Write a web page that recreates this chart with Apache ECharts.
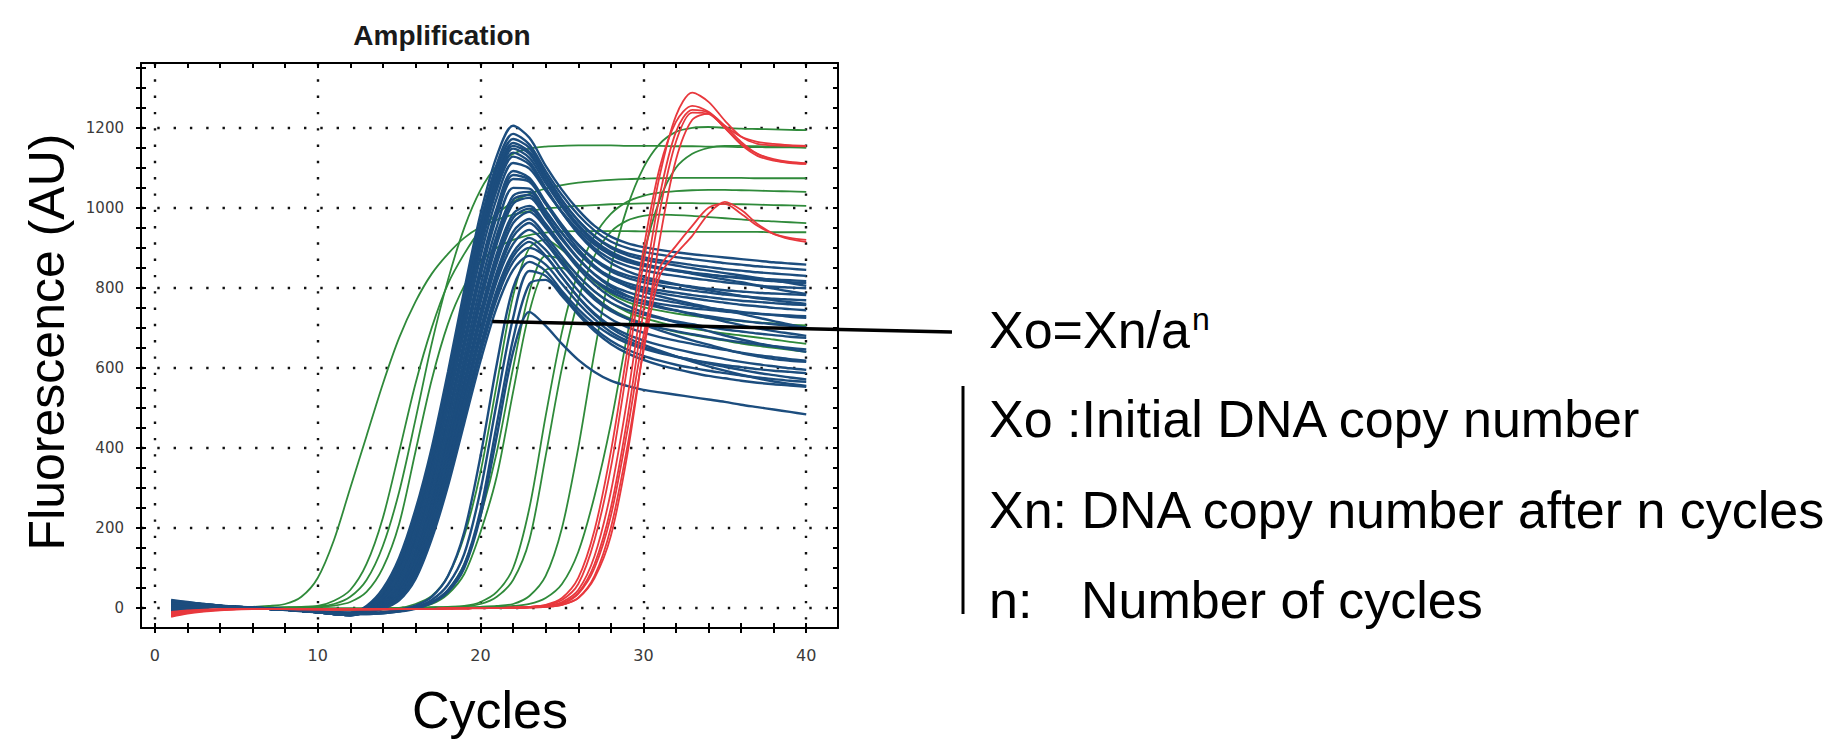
<!DOCTYPE html>
<html><head><meta charset="utf-8">
<script src="https://cdn.jsdelivr.net/npm/echarts@6/dist/echarts.min.js"></script>
<style>html,body{margin:0;padding:0;background:#fff}#c{width:1844px;height:744px}</style>
</head><body><div id="c"></div>
<script>
const cycles = [1,2,3,4,5,6,7,8,9,10,11,12,13,14,15,16,17,18,19,20,21,22,23,24,25,26,27,28,29,30,31,32,33,34,35,36,37,38,39,40];
const xTickValues = [0,2,4,6,8,10,12,14,16,18,20,22,24,26,28,30,32,34,36,38,40];
const xLabelValues = [0,10,20,30,40];
const yTickValues = [0,50,100,150,200,250,300,350,400,450,500,550,600,650,700,750,800,850,900,950,1000,1050,1100,1150,1200,1250,1300,1350];
const yLabelValues = [0,200,400,600,800,1000,1200];

// blue curves (main band + late ones)
const blue01 = [12,10,8,5,2,0,-2,-4,-7,-10,-13,-12,5,48,125,245,400,590,795,985,1130,1205,1175,1105,1045,995,955,928,912,902,895,889,884,880,876,872,868,864,861,858];
const blue02 = [-8,-4,2,4,3,1,-1,-3,-6,-9,-12,-14,3,40,115,232,382,570,775,965,1110,1185,1158,1092,1032,982,943,916,900,890,883,877,872,867,862,858,854,851,848,845];
const blue03 = [18,14,10,6,3,1,-1,-3,-5,-8,-10,-11,2,35,105,220,368,552,752,940,1085,1162,1140,1078,1018,968,930,903,887,877,869,863,857,852,847,843,839,836,833,830];
const blue04 = [0,5,7,5,2,0,-2,-5,-8,-11,-14,-15,1,30,97,208,352,535,732,920,1068,1148,1125,1062,1002,952,913,886,869,858,850,844,838,833,828,824,820,817,814,812];
const blue05 = [10,9,7,4,2,0,-2,-4,-6,-9,-12,-13,0,26,88,195,337,517,712,898,1045,1128,1108,1047,988,938,899,872,855,844,836,830,824,819,814,810,806,803,801,799];
const blue06 = [-12,-6,0,3,3,1,-1,-3,-6,-10,-13,-15,-1,22,80,183,322,500,693,878,1025,1112,1098,1043,990,944,908,882,865,855,848,842,837,833,829,826,823,821,819,817];
const blue07 = [15,12,9,6,3,1,-1,-3,-6,-9,-12,-14,-2,19,72,170,306,480,670,852,1000,1092,1075,1015,958,908,869,842,825,814,806,799,793,788,783,779,776,773,771,769];
const blue08 = [4,8,8,5,2,0,-2,-4,-7,-11,-15,-17,-3,16,65,158,290,462,650,830,978,1072,1065,1010,955,908,872,847,831,821,814,808,803,798,794,791,788,786,784,782];
const blue09 = [20,15,10,6,3,1,-1,-3,-5,-8,-11,-13,-4,14,58,146,275,443,628,806,953,1050,1048,993,937,888,850,823,806,795,787,780,774,768,763,758,754,750,747,744];
const blue10 = [-5,0,4,4,2,0,-2,-4,-7,-10,-14,-16,-5,12,52,136,261,425,608,785,932,1030,1040,990,937,890,853,828,812,801,794,788,782,777,772,768,765,762,759,757];
const blue11 = [8,8,7,5,2,0,-2,-4,-7,-10,-13,-15,-6,10,46,126,248,408,588,763,910,1010,1025,975,920,872,834,807,790,778,770,763,756,750,745,740,736,732,728,725];
const blue12 = [14,11,8,5,2,0,-2,-4,-7,-10,-13,-16,-7,8,41,117,236,392,568,740,886,985,1005,960,906,857,818,790,772,760,751,743,736,729,723,718,713,709,705,701];
const blue13 = [-10,-5,1,3,2,0,-2,-4,-7,-11,-15,-17,-8,6,37,108,224,376,548,718,862,962,990,950,900,856,820,795,779,768,760,754,749,745,741,738,735,733,731,729];
const blue14 = [6,7,6,4,2,0,-2,-4,-7,-10,-14,-17,-9,4,33,100,213,361,530,697,840,940,972,930,878,830,791,763,745,733,724,716,709,702,696,691,686,682,678,675];
const blue15 = [16,12,9,5,2,0,-2,-4,-7,-10,-14,-17,-10,2,29,92,202,346,512,676,817,910,945,912,860,811,771,742,723,710,700,692,684,677,670,664,659,654,650,646];
const blue16 = [2,6,6,4,2,0,-2,-4,-7,-11,-15,-18,-10,0,25,85,192,332,495,656,795,888,925,895,843,793,752,722,702,688,677,668,660,652,645,638,632,627,622,618];
const blue17 = [-6,-2,3,4,2,0,-2,-4,-7,-11,-15,-18,-11,-1,22,78,182,318,478,636,773,865,900,878,827,777,736,705,684,669,657,647,638,630,622,615,609,604,599,595];
const blue18 = [10,9,7,5,2,0,-2,-4,-7,-11,-15,-18,-11,-2,19,72,172,305,462,618,752,845,880,858,810,762,722,690,668,652,640,629,620,611,603,595,588,582,576,571];
const blue19 = [5,7,6,4,2,0,-2,-4,-7,-10,-13,-14,2,37,110,226,375,561,763,952,1098,1172,1150,1083,1020,968,928,900,882,871,863,856,849,843,837,831,825,819,812,805];
const blue20 = [-3,2,5,4,2,0,-2,-4,-7,-10,-13,-15,0,28,92,200,345,526,722,909,1056,1138,1115,1050,988,935,893,862,842,828,818,809,801,794,787,780,774,769,764,760];
const blue21 = [9,8,6,4,2,0,-2,-4,-7,-10,-13,-15,-3,17,68,164,298,471,660,841,988,1082,1070,1010,950,897,855,825,804,790,779,769,760,751,743,735,726,717,708,700];
const blue22 = [3,5,5,4,2,0,-2,-4,-7,-10,-13,-16,-5,11,49,131,254,416,598,774,921,1020,1032,982,925,874,833,802,781,766,754,744,734,725,716,707,699,692,686,680];
const blue23 = [-8,-3,2,3,2,0,-2,-4,-7,-11,-15,-17,-8,7,39,112,230,384,558,729,874,975,998,955,900,849,808,777,755,739,726,714,703,692,681,671,662,654,647,640];
const blue24 = [12,10,7,5,2,0,-2,-4,-7,-11,-15,-17,-9,3,31,96,207,353,521,686,828,928,962,921,868,818,777,746,724,708,694,681,669,658,647,637,629,622,618,615];
const blue25 = [0,4,5,4,2,0,-2,-4,-7,-11,-15,-18,-10,0,24,82,188,326,487,646,784,878,915,880,827,776,733,700,676,658,643,629,616,604,593,583,574,566,560,555];
const blue26 = [7,7,6,4,2,0,-2,-4,-7,-10,-13,-15,1,32,100,214,360,544,742,930,1077,1155,1135,1070,1010,958,918,890,872,860,851,843,835,828,821,814,806,798,791,785];
const blueLate1 = [5,6,5,4,2,0,-2,-4,-7,-10,-13,-15,-14,-10,-4,6,28,80,190,380,610,800,865,842,792,747,710,682,662,648,637,628,620,613,607,602,597,593,590,587];
const blueLate2 = [0,4,5,4,2,0,-2,-4,-7,-10,-13,-15,-14,-12,-7,2,20,58,135,295,515,725,842,830,785,738,698,668,646,630,618,608,600,593,587,581,576,572,568,565];
const blueLate3 = [12,10,7,5,2,0,-2,-4,-7,-10,-13,-15,-15,-13,-9,-2,14,45,108,245,460,672,810,820,780,733,692,660,637,620,607,597,588,580,574,568,563,559,556,553];
const blueLate4 = [-4,0,3,3,2,0,-2,-4,-7,-10,-13,-15,-15,-13,-8,-1,12,40,100,230,430,640,740,705,660,620,590,568,555,545,539,533,527,521,515,508,502,496,490,484];

// green curves
const green01 = [5,8,6,4,3,3,5,10,28,75,170,300,430,560,675,765,835,885,925,952,970,983,992,998,1002,1005,1007,1009,1010,1011,1012,1012,1012,1011,1010,1009,1008,1007,1006,1005];
const green02 = [0,3,4,3,2,1,1,2,3,5,18,45,110,225,390,560,700,810,885,945,985,1015,1035,1048,1057,1063,1067,1070,1072,1073,1074,1075,1075,1075,1075,1075,1074,1074,1074,1074];
const green03 = [-5,0,3,3,2,1,1,1,2,4,10,28,70,155,290,470,660,820,950,1045,1105,1135,1148,1153,1155,1156,1156,1156,1155,1155,1155,1154,1154,1153,1153,1152,1152,1151,1151,1150];
const green04 = [8,7,5,3,2,1,1,1,2,3,6,15,40,100,210,390,570,710,805,865,900,920,932,938,941,942,942,942,942,941,941,941,940,940,940,940,940,939,939,939];
const green05 = [3,4,4,3,2,1,0,0,0,-1,-2,-3,-3,-2,0,10,30,80,180,340,560,780,900,920,895,855,815,785,765,752,743,736,730,725,721,717,714,711,708,706];
const green06 = [-2,1,3,3,2,1,0,0,-1,-2,-3,-4,-4,-3,-1,4,15,45,110,230,390,600,790,880,870,830,792,762,740,725,714,705,698,692,686,681,676,671,665,660];
const green07 = [6,5,4,3,2,1,0,-1,-2,-3,-4,-5,-5,-4,-2,2,10,35,85,190,330,540,740,845,850,815,778,748,727,712,700,690,682,675,668,661,655,650,645,640];
const green08 = [2,3,3,2,1,1,0,0,-1,-1,-2,-2,-2,-1,0,1,2,3,5,15,40,100,250,480,690,840,930,985,1015,1030,1038,1042,1044,1045,1045,1044,1043,1042,1041,1040];
const green09 = [-3,0,2,2,1,1,0,0,-1,-1,-2,-2,-2,-2,-1,0,1,2,4,10,28,70,170,380,600,770,880,940,968,980,983,982,980,977,974,971,968,966,964,962];
const green10 = [4,4,3,2,1,1,0,0,0,-1,-1,-1,-1,-1,0,0,1,1,2,3,5,10,30,80,200,400,640,850,1000,1100,1160,1190,1200,1202,1200,1198,1197,1196,1195,1194];
const green11 = [-1,2,3,2,1,1,0,0,0,-1,-1,-1,-1,-1,-1,0,0,1,1,2,3,5,10,25,60,140,280,460,680,880,1020,1100,1135,1150,1155,1155,1154,1153,1153,1152];

// red curves
const red01 = [-20,-12,-8,-5,-3,-2,-2,-2,-3,-3,-3,-3,-3,-3,-2,-2,-2,-1,-1,0,0,1,3,8,25,75,195,390,640,895,1100,1215,1255,1240,1205,1178,1165,1160,1157,1155];
const red02 = [-15,-10,-6,-4,-3,-2,-2,-3,-3,-4,-4,-4,-3,-3,-3,-2,-2,-1,-1,0,0,1,3,7,20,60,170,350,600,860,1080,1230,1288,1265,1218,1178,1160,1156,1155,1154];
const red03 = [-18,-11,-7,-4,-2,-2,-2,-2,-3,-3,-4,-4,-4,-3,-3,-2,-2,-1,-1,0,0,1,2,5,15,45,130,290,520,790,1030,1190,1245,1238,1200,1160,1135,1122,1115,1112];
const red04 = [-12,-8,-5,-3,-2,-2,-2,-2,-3,-3,-3,-3,-3,-3,-2,-2,-2,-1,-1,0,0,0,2,4,12,38,110,250,470,740,990,1165,1238,1235,1200,1158,1130,1118,1112,1110];
const red05 = [-22,-14,-9,-6,-4,-3,-3,-3,-4,-4,-4,-4,-4,-4,-3,-3,-2,-2,-1,-1,0,0,1,3,8,25,75,180,380,650,920,1120,1220,1235,1205,1165,1135,1120,1113,1110];
const red06 = [-16,-10,-7,-4,-3,-2,-2,-2,-3,-3,-3,-3,-3,-3,-2,-2,-2,-1,-1,0,0,1,2,4,10,35,100,230,440,680,850,905,955,1000,1010,985,955,935,925,920];
const red07 = [-10,-6,-4,-3,-2,-2,-2,-2,-2,-3,-3,-3,-3,-3,-2,-2,-2,-1,-1,0,0,0,1,3,8,25,80,200,400,640,830,885,930,985,1015,995,960,935,922,915];

const blueCurves = [blue01,blue19,blue02,blue26,blue03,blue04,blue20,blue05,blue06,blue07,blue21,blue08,blue09,blue10,blue22,blue11,blue12,blue23,blue13,blue14,blue24,blue15,blue16,blue25,blue17,blue18,blueLate1,blueLate2,blueLate3,blueLate4];
const greenCurves = [green01,green02,green03,green04,green05,green06,green07,green08,green09,green10,green11];
const redCurves = [red01,red02,red03,red04,red05,red06,red07];

const BLUE = '#1c4d7e', GREEN = '#2f8a3a', RED = '#e8383d';
const FONT = '"Liberation Sans", Arial, sans-serif';
const X_MIN = -0.85, X_MAX = 41.95, Y_MIN = -50, Y_MAX = 1362;

function mkSeries(arr, color, width, z) {
  return {
    type: 'line', data: cycles.map((c, i) => [c, arr[i]]),
    xAxisIndex: 0, yAxisIndex: 0, showSymbol: false, symbol: 'none',
    smooth: 0.3, silent: true, animation: false, z: z,
    lineStyle: { color: color, width: width }
  };
}
const series = [];
greenCurves.forEach(a => series.push(mkSeries(a, GREEN, 1.8, 3)));
blueCurves.forEach(a => series.push(mkSeries(a, BLUE, 2.4, 4)));
redCurves.forEach(a => series.push(mkSeries(a, RED, 1.8, 5)));

const blackLine = { show: true, onZero: false, lineStyle: { color: '#000', width: 2 } };
const noLine = { show: false, onZero: false };
const dotted = { show: true, lineStyle: { color: '#111', width: 2.4, type: [2.4, 13.9] } };
const tickStyle = { color: '#000', width: 2 };

function xAx(pos, line, tick, label, split) {
  return { type: 'value', min: X_MIN, max: X_MAX, position: pos, axisLine: line,
    axisTick: tick, axisLabel: label, splitLine: split };
}
function yAx(pos, line, tick, label, split) {
  return { type: 'value', min: Y_MIN, max: Y_MAX, position: pos, axisLine: line,
    axisTick: tick, axisLabel: label, splitLine: split };
}
const hiddenLabel = { show: false };
const plain = v => String(v);
const xLabel = { show: true, customValues: xLabelValues, formatter: plain, color: '#3a3a3a', fontSize: 16,
  fontFamily: '"DejaVu Sans", sans-serif', margin: 19 };
const yLabel = { show: true, customValues: yLabelValues, formatter: plain, color: '#3a3a3a', fontSize: 15,
  fontFamily: '"DejaVu Sans", sans-serif', margin: 17 };

const option = {
  backgroundColor: '#fff',
  animation: false,
  title: { text: 'Amplification', left: 437, top: 16, textAlign: 'center',
    textStyle: { fontSize: 28, fontWeight: 'bold', color: '#1a1a1a', fontFamily: FONT } },
  grid: { left: 141, right: 1006, top: 63, bottom: 116, containLabel: false },
  xAxis: [
    xAx('bottom', blackLine, { show: true, customValues: xTickValues, inside: false, length: 5, lineStyle: tickStyle }, xLabel, { show: false }),
    xAx('bottom', noLine, { show: true, customValues: xTickValues, inside: true, length: 5, lineStyle: tickStyle }, hiddenLabel, { show: false }),
    xAx('top', blackLine, { show: true, customValues: xTickValues, inside: true, length: 5, lineStyle: tickStyle }, hiddenLabel, { show: false }),
    xAx('bottom', noLine, { show: false, customValues: xLabelValues }, hiddenLabel, dotted)
  ],
  yAxis: [
    yAx('left', blackLine, { show: true, customValues: yTickValues, inside: false, length: 5, lineStyle: tickStyle }, yLabel, { show: false }),
    yAx('left', noLine, { show: true, customValues: yTickValues, inside: true, length: 5, lineStyle: tickStyle }, hiddenLabel, { show: false }),
    yAx('right', blackLine, { show: true, customValues: yTickValues, inside: true, length: 5, lineStyle: tickStyle }, hiddenLabel, { show: false }),
    yAx('left', noLine, { show: false, customValues: yLabelValues }, hiddenLabel, dotted)
  ],
  series: series
};

const chart = echarts.init(document.getElementById('c'), null, { renderer: 'svg' });
chart.setOption(option);

const anchor = chart.convertToPixel({ gridIndex: 0 }, [20.72, 716]);
function txt(x, y, text, size, align, extra) {
  return Object.assign({ type: 'text', x: x, y: y, z: 100, silent: true,
    style: { text: text, font: size + 'px ' + FONT, fill: '#000',
      align: align, textAlign: align, verticalAlign: 'middle', textVerticalAlign: 'middle' } }, extra || {});
}
chart.setOption({
  graphic: [
    { type: 'line', z: 100, silent: true,
      shape: { x1: anchor[0], y1: anchor[1], x2: 952, y2: 332 },
      style: { stroke: '#000', lineWidth: 3.5 } },
    { type: 'rect', z: 100, silent: true, shape: { x: 961.5, y: 386, width: 3, height: 228 }, style: { fill: '#000' } },
    txt(47, 342, 'Fluorescence (AU)', 50, 'center', { rotation: Math.PI / 2 }),
    txt(490, 710, 'Cycles', 52, 'center'),
    txt(989, 330, 'Xo=Xn/a', 52, 'left'),
    txt(1192, 319, 'n', 32, 'left'),
    txt(989, 419, 'Xo :Initial DNA copy number', 52, 'left'),
    txt(989, 510, 'Xn: DNA copy number after n cycles', 52, 'left'),
    txt(989, 600, 'n:', 52, 'left'),
    txt(1081, 600, 'Number of cycles', 52, 'left')
  ]
});
</script></body></html>
